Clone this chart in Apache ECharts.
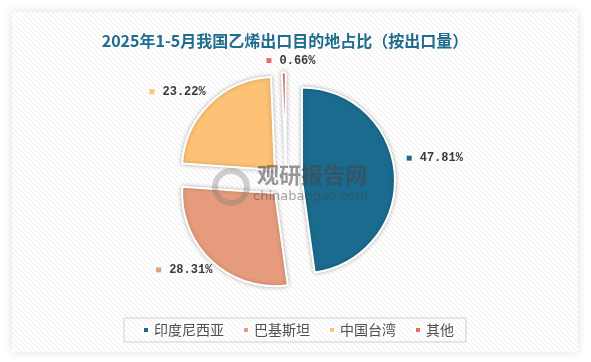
<!DOCTYPE html>
<html>
<head>
<meta charset="utf-8">
<style>
html,body{margin:0;padding:0;background:#fff;}
#c{width:591px;height:362px;}
</style>
<script src="https://cdn.jsdelivr.net/npm/echarts@6/dist/echarts.min.js"></script>
</head>
<body>
<div id="c"></div>
<script>
const titleText = '2025年1-5月我国乙烯出口目的地占比（按出口量）';
const categories = ['印度尼西亚', '巴基斯坦', '中国台湾', '其他'];
const values = [47.81, 28.31, 23.22, 0.66];
const colors = ['#1b6b8f', '#e69c7c', '#fdc275', '#e8715f'];

// stripe pattern for the panel
const pc = document.createElement('canvas');
pc.width = 5; pc.height = 5;
const g = pc.getContext('2d');
g.fillStyle = '#ffffff'; g.fillRect(0, 0, 5, 5);
g.strokeStyle = '#ececec'; g.lineWidth = 1;
g.beginPath(); g.moveTo(-1, -1); g.lineTo(6, 6); g.stroke();

const rich = { v: { fontFamily: 'Liberation Mono', fontWeight: 'bold', fontSize: 12, color: '#3a3a3a', padding: [0, 0, 0, 8] } };
colors.forEach((c, i) => { rich['m' + i] = { width: 5, height: 5, backgroundColor: c }; });

// label nudges (layout only)
const labelShift = [[-13, -15], [22, 0], [17, -3], [45, 0]];

const chart = echarts.init(document.getElementById('c'), null, { renderer: 'canvas' });
chart.setOption({
  animation: false,
  backgroundColor: '#ffffff',
  color: colors,
  graphic: [
    { type: 'rect', left: 12, top: 12, z: -10, silent: true,
      shape: { width: 566, height: 340 },
      style: { fill: { image: pc, repeat: 'repeat' }, shadowBlur: 10, shadowColor: 'rgba(0,0,0,0.12)' } },
    { type: 'text', left: 257, top: 164, z: 50, silent: true,
      style: { text: '观研报告网', font: 'bold 22px "Noto Sans CJK SC"', fill: 'rgba(70,70,70,0.55)' } },
    { type: 'text', left: 253, top: 190, z: 50, silent: true,
      style: { text: 'chinabaogao.com', font: '13px "DejaVu Sans"', fill: 'rgba(70,70,70,0.5)' } },
    { type: 'ring', left: 212, top: 168, z: 50, silent: true,
      shape: { r: 19, r0: 13 }, style: { fill: 'rgba(120,120,120,0.35)' } }
  ],
  title: {
    text: titleText, left: 280, top: 28, textAlign: 'center',
    textStyle: { fontFamily: 'Noto Sans CJK SC', fontWeight: 'bold', fontSize: 16, color: '#1e6d8f' }
  },
  legend: {
    data: categories, left: 124, top: 318,
    orient: 'horizontal', icon: 'rect', itemWidth: 6, itemHeight: 6, itemGap: 18,
    padding: [5, 12, 5, 18], borderColor: '#d0d0d0', borderWidth: 1,
    selectedMode: false,
    textStyle: { fontFamily: 'Noto Sans CJK SC', fontSize: 14, color: '#505050' }
  },
  series: [{
    type: 'pie',
    center: [286, 181.5],
    radius: 93,
    startAngle: 90,
    clockwise: true,
    selectedMode: 'multiple',
    selectedOffset: 16,
    emphasis: { disabled: true },
    itemStyle: { borderColor: '#fff', borderWidth: 2, shadowBlur: 4, shadowColor: 'rgba(0,0,0,0.25)' },
    label: {
      show: true, position: 'outside',
      formatter: p => '{m' + p.dataIndex + '|}{v|' + p.value.toFixed(2) + '%}',
      rich: rich
    },
    labelLine: { show: false, length: 12, length2: 8 },
    labelLayout: p => ({ dx: labelShift[p.dataIndex][0], dy: labelShift[p.dataIndex][1] }),
    data: categories.map((n, i) => ({ name: n, value: values[i], selected: true }))
  }]
});
</script>
</body>
</html>
